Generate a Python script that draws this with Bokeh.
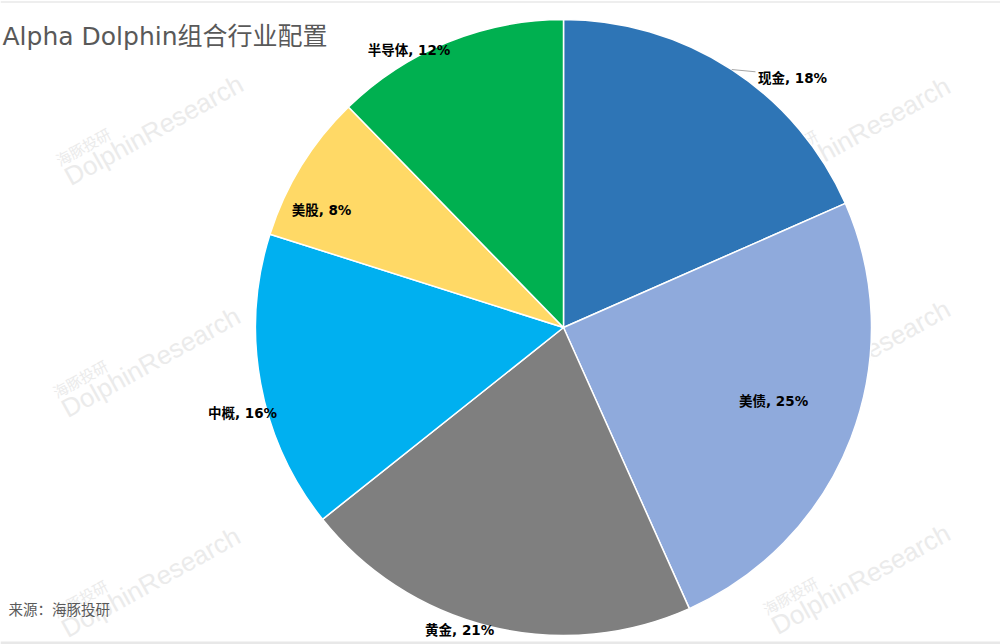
import math
from bokeh.plotting import figure
from bokeh.models import Range1d, ColumnDataSource
from bokeh.core.properties import value
from bokeh.embed import file_html
from bokeh.resources import INLINE

# ---- data ----
categories = ["现金", "美债", "黄金", "中概", "美股", "半导体"]
shares = [18.4, 24.9, 21.0, 15.6, 7.8, 12.3]
colors = ["#2E75B6", "#8FAADC", "#7F7F7F", "#00B0F0", "#FFD966", "#00B050"]
title_text = "Alpha Dolphin组合行业配置"
source_text = "来源：海豚投研"
watermark_cn = "海豚投研"
watermark_en = "DolphinResearch"

# ---- layout ----
W, H = 1000, 644
CX, CY = 563, 327
R = 308
label_r = [1.10, 0.723, 1.037, 1.078, 0.874, 1.03]
label_shift = [9.4, -1.7, 5.3, -4.4, -5.7, -7.0]
wm_starts = [(66, 178), (63, 410), (63, 630), (773, 180), (773, 403), (773, 627)]
wm_angle = 29

LATIN_CJK = "DejaVu Sans, Noto Sans CJK SC"

p = figure(width=W, height=H,
           x_range=Range1d(0, W), y_range=Range1d(-H, 0),
           output_backend="svg", toolbar_location=None,
           x_axis_location=None, y_axis_location=None,
           min_border=0, outline_line_color=None)
p.grid.visible = False
p.background_fill_color = "white"
p.border_fill_color = "white"

# faint frame lines at top and bottom edges
p.line(x=[0, W], y=[-1.5, -1.5], line_color="#eeeeee", line_width=2)
p.line(x=[0, W], y=[-642.5, -642.5], line_color="#e8e8e8", line_width=3)

# watermarks (drawn first, underneath)
a = math.radians(wm_angle)
n = (-math.sin(a), math.cos(a))
wx = [sx for sx, sy in wm_starts]
wy = [-sy for sx, sy in wm_starts]
p.text(x=wx, y=wy, text=[watermark_en] * len(wx), angle=a,
       text_font=value("Liberation Sans"), text_font_size="26px",
       text_color="#ebebeb", text_align="left", text_baseline="alphabetic")
cx_ = [x + 20 * n[0] for x in wx]
cy_ = [y + 20 * n[1] for y in wy]
p.text(x=cx_, y=cy_, text=[watermark_cn] * len(wx), angle=a,
       text_font=value("Noto Sans CJK SC"), text_font_size="15px",
       text_color="#ebebeb", text_align="left", text_baseline="alphabetic")

# pie
total = sum(shares)
starts, ends, mids = [], [], []
cum = 0.0
for s in shares:
    a0 = cum / total * 360
    cum += s
    a1 = cum / total * 360
    starts.append(math.radians(90 - a0))
    ends.append(math.radians(90 - a1))
    mids.append((a0 + a1) / 2)

src = ColumnDataSource(dict(cat=categories, share=shares, color=colors,
                            start=starts, end=ends))
p.wedge(x=CX, y=-CY, radius=R, start_angle="start", end_angle="end",
        direction="clock", fill_color="color", line_color="white",
        line_width=1.5, source=src)

# labels
lx, ly, lt = [], [], []
for i, cat in enumerate(categories):
    ang = math.radians(mids[i] + label_shift[i])
    rr = R * label_r[i]
    lx.append(CX + rr * math.sin(ang))
    ly.append(-CY + rr * math.cos(ang))
    lt.append(f"{cat}, {round(shares[i])}%")

# leader line for the first (outside) label
m0 = math.radians(mids[0])
p.line(x=[CX + R * math.sin(m0), lx[0] - 37], y=[-CY + R * math.cos(m0), ly[0] + 6],
       line_color="#a6a6a6", line_width=1)

p.text(x=lx, y=ly, text=lt, text_font=value(LATIN_CJK), text_font_size="13.5px",
       text_font_style="bold", text_color="#000000",
       text_align="center", text_baseline="middle")

# title & source
p.text(x=[2], y=[-36], text=[title_text], text_font=value(LATIN_CJK),
       text_font_size="25px", text_color="#595959",
       text_align="left", text_baseline="alphabetic")
p.text(x=[8], y=[-608], text=[source_text], text_font=value("Noto Sans CJK SC"),
       text_font_size="14.5px", text_color="#595959",
       text_align="left", text_baseline="middle")

open("out.html", "w").write(file_html(p, INLINE))
